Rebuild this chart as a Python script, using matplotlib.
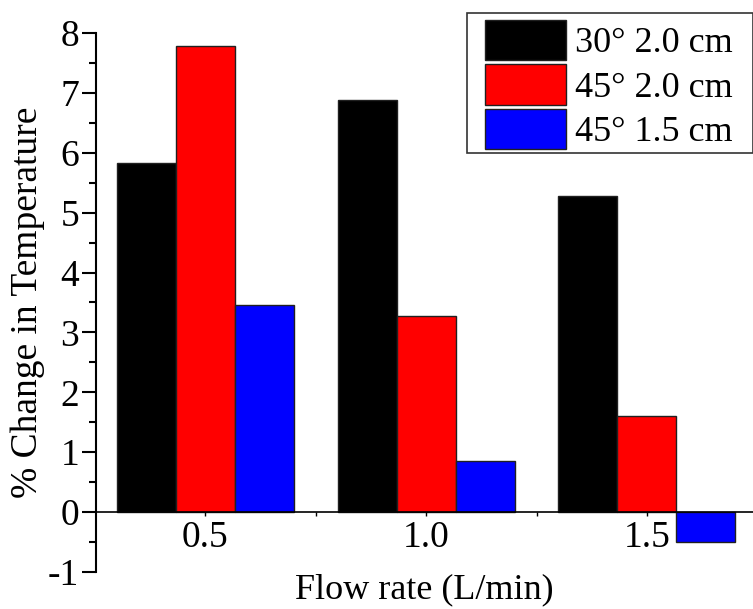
import numpy as np
import matplotlib.pyplot as plt
from matplotlib.ticker import MultipleLocator
from matplotlib.patches import Rectangle

plt.rcParams['font.family'] = ['Liberation Serif', 'DejaVu Serif']
plt.rcParams['axes.unicode_minus'] = False

flow = [0.5, 1.0, 1.5]
series = ['30\u00b0 2.0 cm', '45\u00b0 2.0 cm', '45\u00b0 1.5 cm']
colors = ['black', 'red', 'blue']
vals_30_20 = [5.83, 6.88, 5.27]
vals_45_20 = [7.78, 3.27, 1.60]
vals_45_15 = [3.46, 0.85, -0.50]
all_vals = [vals_30_20, vals_45_20, vals_45_15]

fig = plt.figure(figsize=(7.53, 6.09), dpi=100)
ax = fig.add_axes([0.1275, 0.0608, 0.8725, 0.885])

w = 0.1335
x = np.array(flow)
for i, (vals, lab, c) in enumerate(zip(all_vals, series, colors)):
    ax.bar(x + (i - 1) * w, vals, width=w, color=c, edgecolor='#202020',
           linewidth=1.0, label=lab)

ax.set_xlim(0.253, 1.74)
ax.set_ylim(-1, 8)
ax.spines['top'].set_visible(False)
ax.spines['right'].set_visible(False)
ax.spines['bottom'].set_position(('data', 0))
ax.spines['left'].set_linewidth(1.5)
ax.spines['bottom'].set_linewidth(1.2)

ax.set_xticks(flow)
ax.set_xticklabels(['0.5', '1.0', '1.5'])
ax.xaxis.set_minor_locator(MultipleLocator(0.25))
ax.yaxis.set_major_locator(MultipleLocator(1))
ax.yaxis.set_minor_locator(MultipleLocator(0.5))
ax.tick_params(axis='y', which='major', length=10, width=1.5, labelsize=27, pad=2)
ax.tick_params(axis='y', which='minor', length=5, width=1.5)
ax.tick_params(axis='x', which='both', length=3, width=1, labelsize=27, pad=3)

ax.set_ylabel('% Change in Temperature', fontsize=27)
ax.yaxis.set_label_coords(-0.0776, 0.5)
ax.set_xlabel('Flow rate (L/min)', fontsize=26)
ax.xaxis.set_label_coords(0.5, -0.003)

# legend contents without frame, frame drawn separately
leg = fig.legend(loc='upper left', bbox_to_anchor=(485 / 753, 1 - 20 / 609), fontsize=26,
                 frameon=False, handlelength=2.25, handleheight=1.33,
                 handletextpad=0.25, labelspacing=0.12, borderpad=0,
                 borderaxespad=0)
fig.patches.append(Rectangle((467 / 753, 1 - 153 / 609), 286 / 753, 140 / 609,
                             transform=fig.transFigure, facecolor='none',
                             edgecolor='#333333', linewidth=1.2))

fig.savefig('out.png', dpi=100)
